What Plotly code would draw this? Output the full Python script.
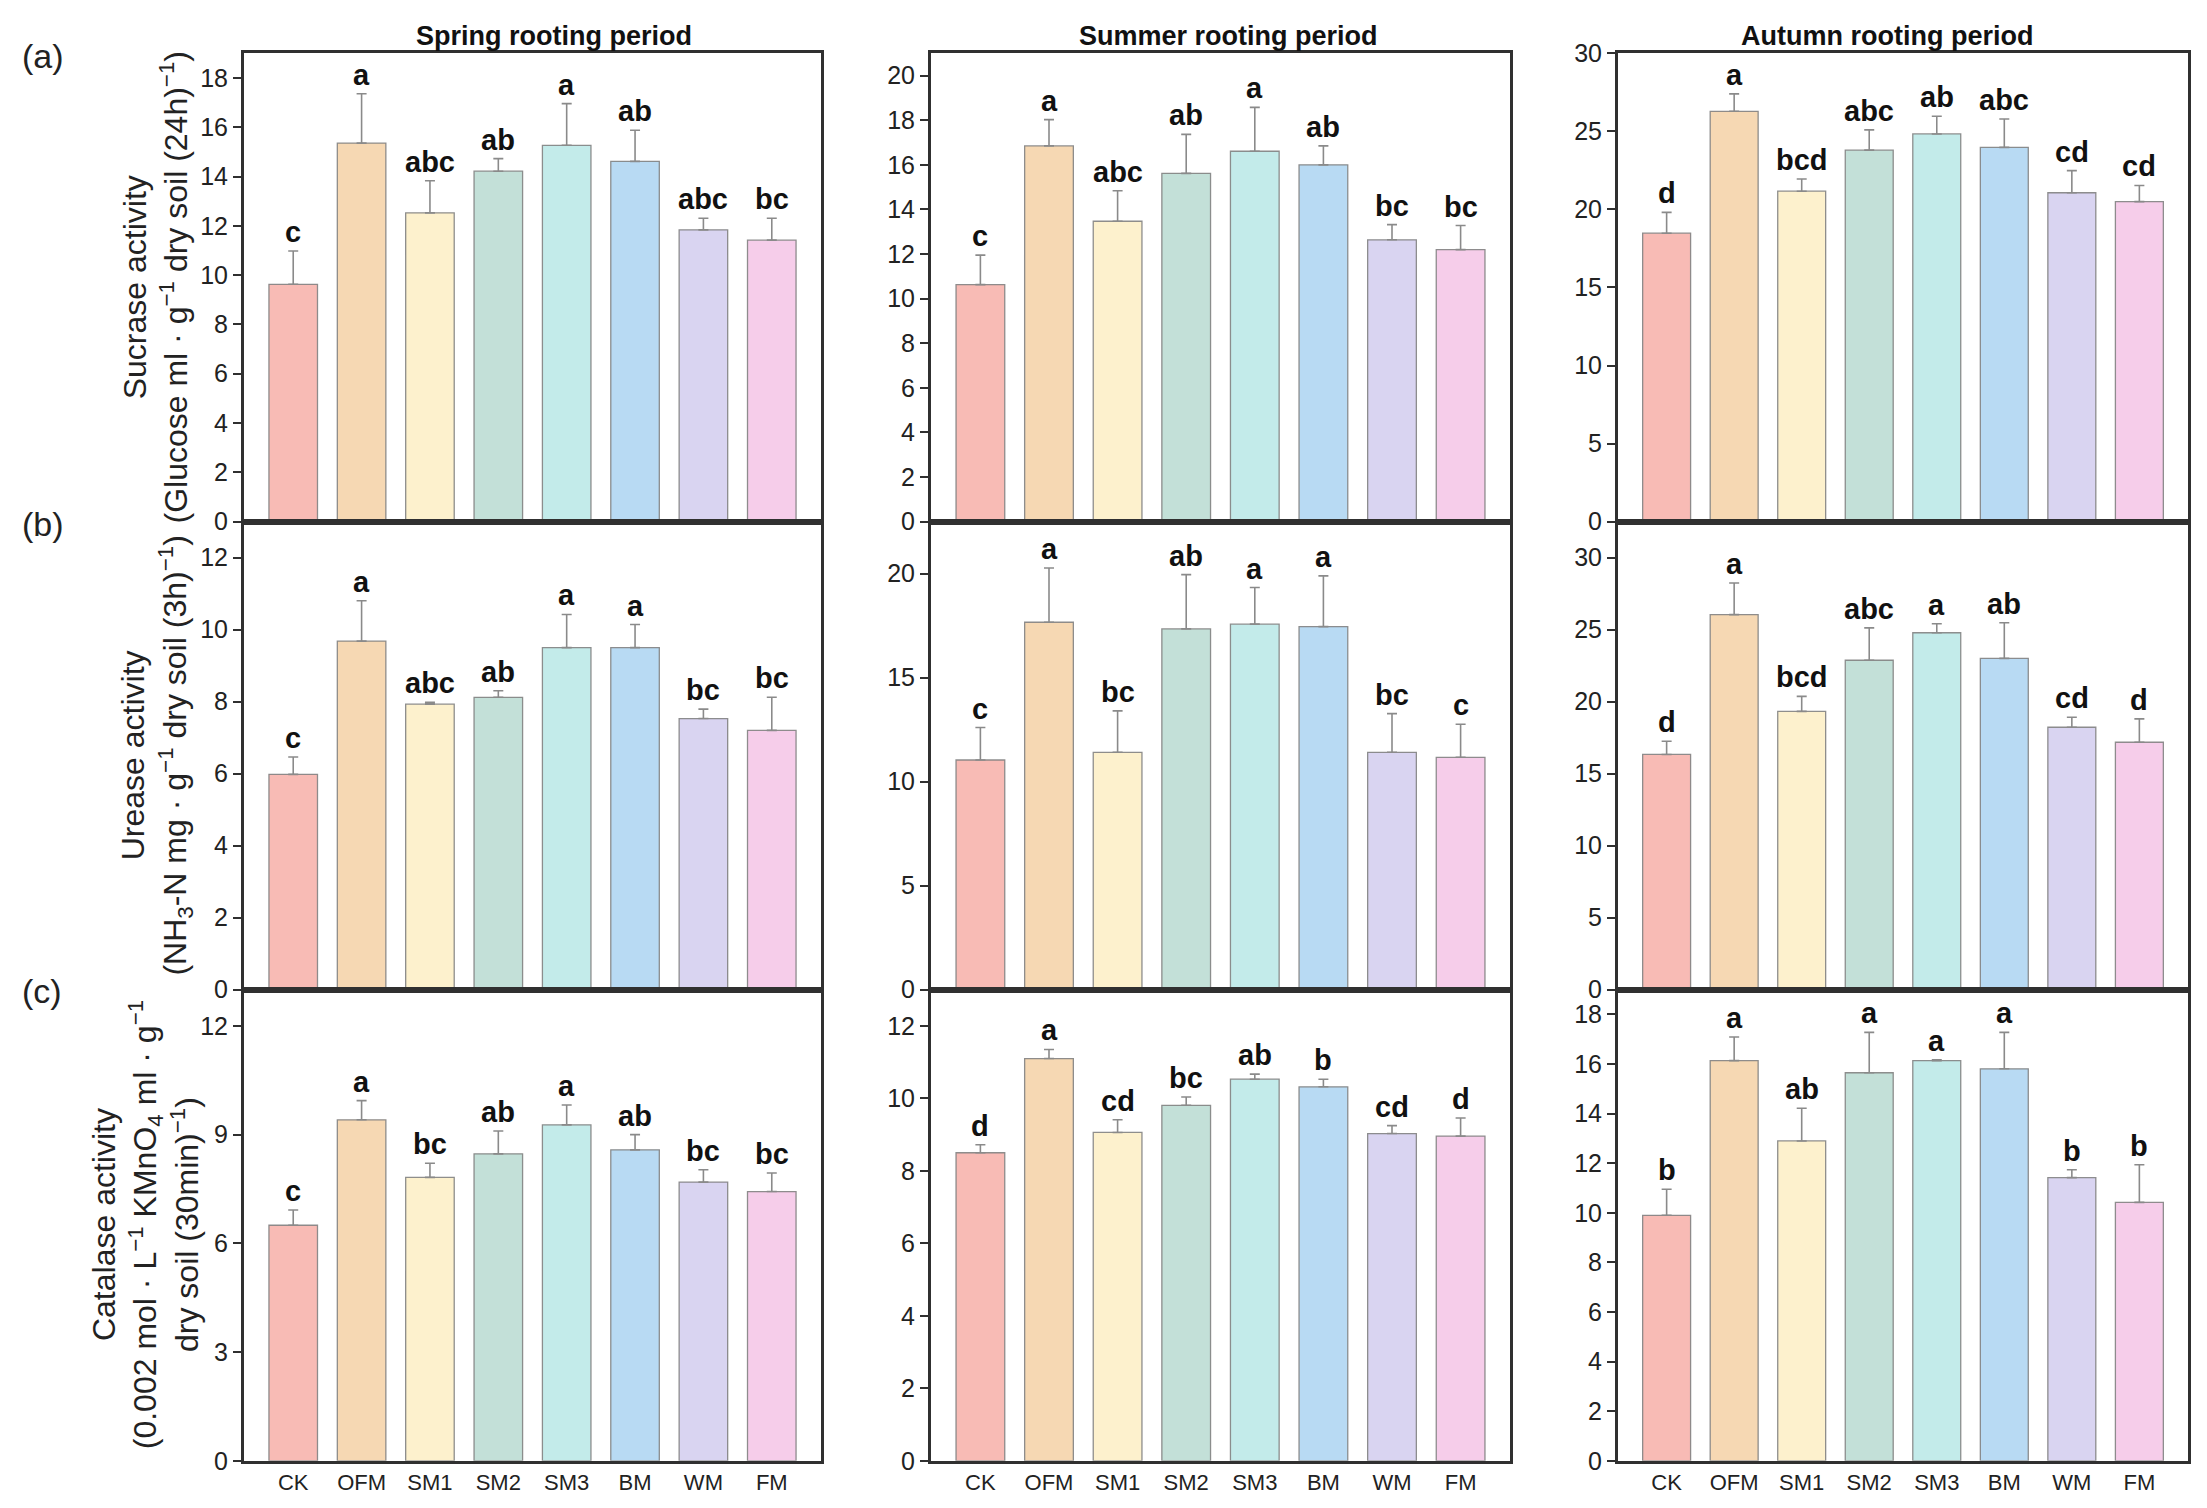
import plotly.graph_objects as go
from plotly.subplots import make_subplots

W, H = 2207, 1508

treatments = ['CK', 'OFM', 'SM1', 'SM2', 'SM3', 'BM', 'WM', 'FM']
colors = ['#F8BBB5', '#F6D8B3', '#FDF1CD', '#C3E0D8',
          '#C3EBEA', '#B8DAF3', '#D9D4F1', '#F6CDEA']
periods = ['Spring rooting period', 'Summer rooting period', 'Autumn rooting period']

# sucrase
sucrase_spring = [9.63, 15.36, 12.53, 14.22, 15.27, 14.62, 11.84, 11.42]
sucrase_spring_sd = [1.35, 2.00, 1.30, 0.51, 1.69, 1.26, 0.47, 0.89]
sucrase_spring_sig = ['c', 'a', 'abc', 'ab', 'a', 'ab', 'abc', 'bc']
sucrase_summer = [10.63, 16.85, 13.47, 15.62, 16.61, 16.00, 12.64, 12.20]
sucrase_summer_sd = [1.32, 1.18, 1.37, 1.75, 1.97, 0.85, 0.68, 1.08]
sucrase_summer_sig = ['c', 'a', 'abc', 'ab', 'a', 'ab', 'bc', 'bc']
sucrase_autumn = [18.48, 26.29, 21.17, 23.80, 24.84, 23.98, 21.07, 20.50]
sucrase_autumn_sd = [1.33, 1.12, 0.78, 1.30, 1.13, 1.82, 1.42, 1.04]
sucrase_autumn_sig = ['d', 'a', 'bcd', 'abc', 'ab', 'abc', 'cd', 'cd']

# urease
urease_spring = [5.98, 9.68, 7.93, 8.12, 9.50, 9.50, 7.53, 7.20]
urease_spring_sd = [0.48, 1.12, 0.05, 0.18, 0.92, 0.64, 0.26, 0.92]
urease_spring_sig = ['c', 'a', 'abc', 'ab', 'a', 'a', 'bc', 'bc']
urease_summer = [11.04, 17.66, 11.41, 17.34, 17.57, 17.45, 11.41, 11.17]
urease_summer_sd = [1.56, 2.61, 1.99, 2.61, 1.76, 2.44, 1.86, 1.59]
urease_summer_sig = ['c', 'a', 'bc', 'ab', 'a', 'a', 'bc', 'c']
urease_autumn = [16.33, 26.04, 19.32, 22.87, 24.78, 23.00, 18.22, 17.18]
urease_autumn_sd = [0.92, 2.19, 1.04, 2.25, 0.62, 2.47, 0.69, 1.62]
urease_autumn_sig = ['d', 'a', 'bcd', 'abc', 'a', 'ab', 'cd', 'd']

# catalase
catalase_spring = [6.50, 9.41, 7.82, 8.47, 9.27, 8.58, 7.69, 7.43]
catalase_spring_sd = [0.42, 0.53, 0.39, 0.63, 0.55, 0.42, 0.34, 0.51]
catalase_spring_sig = ['c', 'a', 'bc', 'ab', 'a', 'ab', 'bc', 'bc']
catalase_summer = [8.50, 11.10, 9.06, 9.81, 10.53, 10.32, 9.03, 8.96]
catalase_summer_sd = [0.22, 0.25, 0.35, 0.23, 0.14, 0.21, 0.22, 0.50]
catalase_summer_sig = ['d', 'a', 'cd', 'bc', 'ab', 'b', 'cd', 'd']
catalase_autumn = [9.90, 16.14, 12.90, 15.65, 16.14, 15.81, 11.42, 10.42]
catalase_autumn_sd = [1.05, 0.95, 1.32, 1.63, 0.03, 1.47, 0.32, 1.52]
catalase_autumn_sig = ['b', 'a', 'ab', 'a', 'a', 'a', 'b', 'b']

panels = [
    [(sucrase_spring, sucrase_spring_sd, sucrase_spring_sig, 19, 2),
     (sucrase_summer, sucrase_summer_sd, sucrase_summer_sig, 21, 2),
     (sucrase_autumn, sucrase_autumn_sd, sucrase_autumn_sig, 30, 5)],
    [(urease_spring, urease_spring_sd, urease_spring_sig, 13, 2),
     (urease_summer, urease_summer_sd, urease_summer_sig, 22.5, 5),
     (urease_autumn, urease_autumn_sd, urease_autumn_sig, 32.5, 5)],
    [(catalase_spring, catalase_spring_sd, catalase_spring_sig, 13, 3),
     (catalase_summer, catalase_summer_sd, catalase_summer_sig, 13, 2),
     (catalase_autumn, catalase_autumn_sd, catalase_autumn_sig, 19, 2)],
]

ytitles = [
    'Sucrase activity<br>(Glucose ml · g<sup>−1</sup> dry soil (24h)<sup>−1</sup>)',
    'Urease activity<br>(NH<sub>3</sub>-N mg · g<sup>−1</sup> dry soil (3h)<sup>−1</sup>)',
    'Catalase activity<br>(0.002 mol · L<sup>−1</sup> KMnO<sub>4</sub> ml · g<sup>−1</sup>'
    '<br>dry soil (30min)<sup>−1</sup>)',
]
panel_tags = ['(a)', '(b)', '(c)']

# pixel boxes of the plot areas
col_px = [(236, 813), (923, 1502), (1610, 2180)]
row_px = [(32, 509), (509, 986), (986, 1466)]

narrow = 'Liberation Sans Narrow, Arial Narrow, Liberation Sans, Arial'
sans = 'Liberation Sans, Arial'
border = '#303030'

fig = make_subplots(rows=3, cols=3)

for r in range(3):
    for c in range(3):
        vals, sd, sig, ytop, dt = panels[r][c]
        n = r * 3 + c + 1
        fig.add_trace(go.Bar(
            x=treatments, y=vals, width=0.71,
            marker=dict(color=colors, line=dict(color='rgba(130,130,130,0.9)', width=1.3)),
            error_y=dict(type='data', symmetric=False, array=sd,
                         arrayminus=[0] * len(sd), color='#8a8a8a',
                         thickness=1.6, width=5),
            showlegend=False), row=r + 1, col=c + 1)
        for t, v, s, lab in zip(treatments, vals, sd, sig):
            fig.add_annotation(x=t, y=v + s, xref=f'x{n}', yref=f'y{n}',
                               text=f'<b>{lab}</b>', showarrow=False,
                               yanchor='bottom', yshift=1,
                               font=dict(family=sans, size=29, color='#111111'))

        x0, x1 = col_px[c]
        y0, y1 = row_px[r]
        xa = 'xaxis' if n == 1 else f'xaxis{n}'
        ya = 'yaxis' if n == 1 else f'yaxis{n}'
        fig.update_layout({
            xa: dict(domain=[x0 / W, x1 / W], range=[-0.72, 7.72],
                     showline=True, mirror=True, linecolor=border, linewidth=3,
                     ticks='', showgrid=False, zeroline=False,
                     showticklabels=(r == 2),
                     tickfont=dict(family=sans, size=22, color='#222222')),
            ya: dict(domain=[1 - y1 / H, 1 - y0 / H], range=[0, ytop], dtick=dt,
                     showline=True, mirror=True, linecolor=border, linewidth=3,
                     ticks='outside', ticklen=8, tickwidth=2, tickcolor=border,
                     showgrid=False, zeroline=False,
                     tickfont=dict(family=narrow, size=25, color='#222222')),
        })

# column titles
title_x = [546, 1220, 1879]
for c in range(3):
    fig.add_annotation(x=title_x[c] / W, y=1 - 14 / H, xref='paper', yref='paper',
                       text=f'<b>{periods[c]}</b>', showarrow=False,
                       xanchor='center', yanchor='middle',
                       font=dict(family=narrow, size=27, color='#111111'))

# y titles and panel tags
title_cx = [148, 148, 137]
tag_y = [35, 511, 987]
for r in range(3):
    yc = (row_px[r][0] + row_px[r][1]) / 2
    fig.add_annotation(x=title_cx[r] / W, y=1 - yc / H, xref='paper', yref='paper',
                       text=ytitles[r], showarrow=False, textangle=-90,
                       xanchor='center', yanchor='middle',
                       font=dict(family=sans, size=32, color='#222222'))
    fig.add_annotation(x=12 / W, y=1 - tag_y[r] / H, xref='paper', yref='paper',
                       text=panel_tags[r], showarrow=False,
                       xanchor='left', yanchor='middle',
                       font=dict(family=sans, size=34, color='#222222'))

fig.update_layout(width=W, height=H, margin=dict(l=0, r=0, t=0, b=0),
                  paper_bgcolor='white', plot_bgcolor='white', bargap=0.29)

fig.write_html('out.html')
